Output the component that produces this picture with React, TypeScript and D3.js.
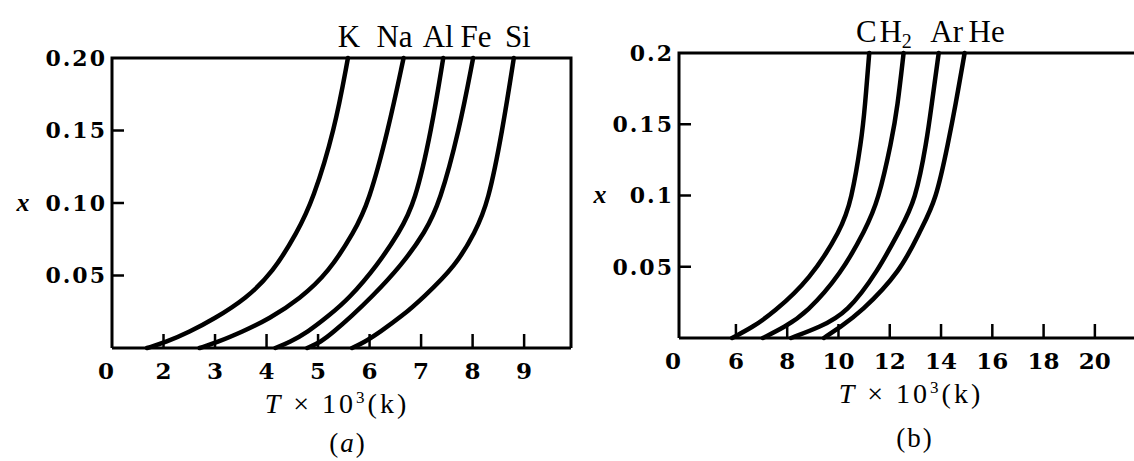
import React, { useRef, useEffect } from 'react';
import * as d3 from 'd3';

const width = 1134;
const height = 461;

// (a) ionisation fraction x vs T (10^3 K) for metal vapours
const curveK = [[1.68, 0], [2.05, 0.004], [2.5, 0.011], [2.98, 0.02], [3.6, 0.034], [4.12, 0.052], [4.6, 0.08], [4.9, 0.102], [5.32, 0.15], [5.58, 0.2]];
const curveNa = [[2.7, 0], [3.05, 0.004], [3.52, 0.011], [4.05, 0.02], [4.65, 0.034], [5.2, 0.052], [5.7, 0.08], [5.98, 0.1], [6.36, 0.15], [6.66, 0.2]];
const curveAl = [[4.17, 0], [4.45, 0.004], [4.8, 0.011], [5.2, 0.022], [5.6, 0.034], [6.15, 0.057], [6.58, 0.08], [6.88, 0.1], [7.2, 0.15], [7.43, 0.2]];
const curveFe = [[4.79, 0], [5.05, 0.004], [5.3, 0.011], [5.65, 0.022], [6.01, 0.034], [6.62, 0.057], [7.08, 0.08], [7.36, 0.1], [7.74, 0.15], [8.01, 0.2]];
const curveSi = [[5.66, 0], [5.9, 0.004], [6.2, 0.011], [6.63, 0.022], [7.02, 0.034], [7.68, 0.057], [8.05, 0.08], [8.3, 0.1], [8.58, 0.15], [8.8, 0.2]];
const namesA = ['K', 'Na', 'Al', 'Fe', 'Si'];
const xTicksA = [2, 3, 4, 5, 6, 7, 8, 9];
const yTicksA = [0.05, 0.1, 0.15, 0.2];
const yLabelsA = ['0.05', '0.10', '0.15', '0.20'];

// (b) gases
const curveC = [[5.85, 0], [6.66, 0.0077], [7.44, 0.0175], [8.89, 0.041], [10.1, 0.076], [10.5, 0.096], [10.9, 0.139], [11.03, 0.162], [11.2, 0.2]];
const curveH2 = [[7.05, 0], [7.9, 0.0077], [8.75, 0.0175], [10.1, 0.045], [11.05, 0.076], [11.55, 0.096], [12.08, 0.139], [12.3, 0.162], [12.54, 0.2]];
const curveAr = [[8.15, 0], [9.28, 0.0077], [10.33, 0.0175], [11.54, 0.047], [12.4, 0.076], [13.0, 0.096], [13.45, 0.139], [13.62, 0.162], [13.91, 0.2]];
const curveHe = [[9.43, 0], [10.06, 0.0077], [10.84, 0.0175], [12.44, 0.047], [13.2, 0.076], [13.8, 0.096], [14.3, 0.139], [14.55, 0.162], [14.92, 0.2]];
const namesB = ['C', 'H', 'Ar', 'He'];
const xTicksB = [6, 8, 10, 12, 14, 16, 18, 20];
const yTicksB = [0.05, 0.1, 0.15, 0.2];
const yLabelsB = ['0.05', '0.1', '0.15', '0.2'];

const numFont = '"DejaVu Serif", serif';
const textFont = '"Liberation Serif", "Times New Roman", serif';

function drawPanel(svg, p) {
  const x = d3.scaleLinear().domain(p.xDomain).range([p.left, p.right]);
  const y = d3.scaleLinear().domain([0, 0.2]).range([p.bottom, p.top]);
  const g = svg.append('g');
  const x0 = x(p.xDomain[0]);
  const x1 = x(p.xDomain[1]);

  // frame
  const frame = d3.path();
  frame.moveTo(x0, y(0));
  frame.lineTo(x0, y(0.2));
  frame.lineTo(x1, y(0.2));
  if (p.closed) frame.lineTo(x1, y(0));
  frame.moveTo(x0, y(0));
  frame.lineTo(x1, y(0));
  g.append('path').attr('d', frame.toString()).attr('fill', 'none')
    .attr('stroke', '#000').attr('stroke-width', 3);

  // x ticks (pointing up)
  g.selectAll('.xt').data(p.xTicks).join('line')
    .attr('x1', d => x(d)).attr('x2', d => x(d))
    .attr('y1', y(0)).attr('y2', y(0) - 14)
    .attr('stroke', '#000').attr('stroke-width', 2.5);
  g.selectAll('.xl').data(['0', ...p.xTicks.map(String)]).join('text')
    .attr('x', (d, i) => i === 0 ? x0 - 6 : x(p.xTicks[i - 1]))
    .attr('y', y(0) + 31)
    .attr('text-anchor', 'middle')
    .attr('font-family', numFont).attr('font-weight', 'bold').attr('font-size', 23)
    .text(d => d);

  // y ticks (pointing right)
  g.selectAll('.yt').data(p.yTicks.slice(0, 3)).join('line')
    .attr('x1', x0).attr('x2', x0 + 12)
    .attr('y1', d => y(d)).attr('y2', d => y(d))
    .attr('stroke', '#000').attr('stroke-width', 2.5);
  g.selectAll('.yl').data(p.yTicks).join('text')
    .attr('x', x0 - 5).attr('y', d => y(d)).attr('dy', '0.36em')
    .attr('text-anchor', 'end')
    .attr('font-family', numFont).attr('font-weight', 'bold').attr('font-size', 22)
    .attr('letter-spacing', 2)
    .text((d, i) => p.yLabels[i]);

  // y title
  g.append('text').attr('x', p.yTitleX).attr('y', y(0.1)).attr('dy', '0.3em')
    .attr('text-anchor', 'middle').attr('font-family', textFont)
    .attr('font-style', 'italic').attr('font-weight', 'bold').attr('font-size', 26).text('x');

  // curves (B-spline smooths the hand-read points)
  const line = d3.line().x(d => x(d[0])).y(d => y(d[1])).curve(d3.curveBasis);
  g.selectAll('.curve').data(p.curves).join('path')
    .attr('d', line).attr('fill', 'none')
    .attr('stroke', '#000').attr('stroke-width', 4.5).attr('stroke-linecap', 'round');

  // curve names above the top line
  p.curves.forEach((c, i) => {
    const t = g.append('text')
      .attr('x', x(c[c.length - 1][0]) + p.nameDx[i]).attr('y', y(0.2) - 11)
      .attr('text-anchor', 'middle').attr('font-family', textFont).attr('font-size', 31)
      .text(p.names[i]);
    if (p.names[i] === 'H') t.append('tspan').attr('font-size', 20).attr('dy', 6).text('2');
  });

  // x title
  const xt = g.append('text').attr('x', p.titleX).attr('y', y(0) + 65)
    .attr('text-anchor', 'middle').attr('font-family', textFont).attr('font-size', 28)
    .attr('letter-spacing', 3);
  xt.append('tspan').attr('font-style', 'italic').text('T');
  xt.append('tspan').text(' × 10');
  xt.append('tspan').attr('font-size', 17).attr('dy', -10).text('3');
  xt.append('tspan').attr('dy', 10).text('(k)');

  // caption
  const cap = g.append('text').attr('x', p.capX).attr('y', p.capY)
    .attr('text-anchor', 'middle').attr('font-family', textFont).attr('font-size', 27)
    .attr('letter-spacing', 2);
  cap.append('tspan').text('(');
  cap.append('tspan').attr('font-style', p.capItalic ? 'italic' : 'normal').text(p.cap);
  cap.append('tspan').text(')');
}

const App = () => {
  const svgRef = useRef(null);

  useEffect(() => {
    const svg = d3.select(svgRef.current);
    svg.selectAll('*').remove();

    drawPanel(svg, {
      xDomain: [1.0, 9.91], left: 112, right: 571, top: 58, bottom: 348, closed: true,
      xTicks: xTicksA, yTicks: yTicksA, yLabels: yLabelsA, yTitleX: 23,
      curves: [curveK, curveNa, curveAl, curveFe, curveSi], names: namesA,
      nameDx: [1, -9, -5, 3, 4],
      titleX: 337, capX: 348, capY: 452, cap: 'a', capItalic: true,
    });

    drawPanel(svg, {
      xDomain: [3.78, 21.76], left: 679, right: 1140, top: 53, bottom: 338, closed: false,
      xTicks: xTicksB, yTicks: yTicksB, yLabels: yLabelsB, yTitleX: 600,
      curves: [curveC, curveH2, curveAr, curveHe], names: namesB,
      nameDx: [-3, -8, 8, 22],
      titleX: 911, capX: 915, capY: 447, cap: 'b', capItalic: false,
    });
  }, []);

  return (
    <svg ref={svgRef} width={width} height={height}
      style={{ position: 'absolute', left: 0, top: 0, background: '#fff' }} />
  );
};

export default App;
